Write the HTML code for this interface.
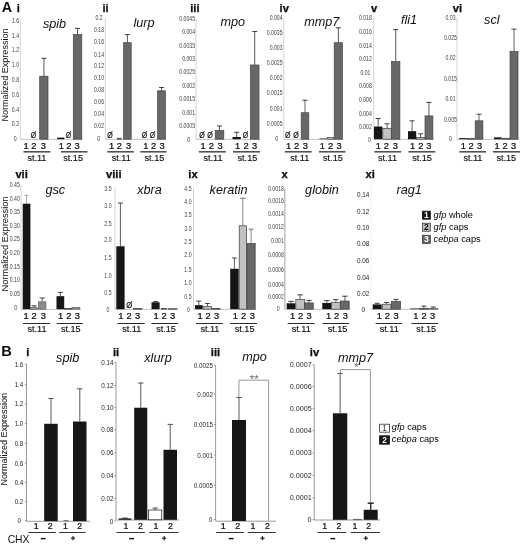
<!DOCTYPE html>
<html><head><meta charset="utf-8"><title>Figure</title>
<style>
html,body{margin:0;padding:0;background:#fff;}
body{width:520px;height:544px;overflow:hidden;}
svg{display:block;font-family:"Liberation Sans",sans-serif;}
</style></head><body>
<svg width="520" height="544" viewBox="0 0 520 544">
<defs><filter id="soft" x="0" y="0" width="520" height="544" filterUnits="userSpaceOnUse"><feGaussianBlur stdDeviation="0.32"/></filter></defs>
<rect width="520" height="544" fill="#fff"/>
<g filter="url(#soft)">
<line x1="20.3" y1="20.5" x2="20.3" y2="139.2" stroke="#c0c0c0" stroke-width="0.7"/>
<line x1="20.3" y1="139.4" x2="82.8" y2="139.4" stroke="#b5b5b5" stroke-width="0.8"/>
<text transform="translate(19.0,22.7) scale(0.78,1)" font-size="6.6" text-anchor="end" fill="#3c3c3c">1.6</text>
<text transform="translate(19.0,37.7) scale(0.78,1)" font-size="6.6" text-anchor="end" fill="#3c3c3c">1.4</text>
<text transform="translate(19.0,52.2) scale(0.78,1)" font-size="6.6" text-anchor="end" fill="#3c3c3c">1.2</text>
<text transform="translate(19.0,67.2) scale(0.78,1)" font-size="6.6" text-anchor="end" fill="#3c3c3c">1.0</text>
<text transform="translate(19.0,82.2) scale(0.78,1)" font-size="6.6" text-anchor="end" fill="#3c3c3c">0.8</text>
<text transform="translate(19.0,96.7) scale(0.78,1)" font-size="6.6" text-anchor="end" fill="#3c3c3c">0.6</text>
<text transform="translate(19.0,111.5) scale(0.78,1)" font-size="6.6" text-anchor="end" fill="#3c3c3c">0.4</text>
<text transform="translate(19.0,126.2) scale(0.78,1)" font-size="6.6" text-anchor="end" fill="#3c3c3c">0.2</text>
<text transform="translate(15.2,140.5) scale(0.78,1)" font-size="6.6" text-anchor="middle" fill="#3c3c3c">0</text>
<text transform="translate(54.5,28.2) scale(1.055,1)" font-size="12.0" text-anchor="middle" fill="#111" font-style="italic">spib</text>
<line x1="43.9" y1="58.3" x2="43.9" y2="76.2" stroke="#151515" stroke-width="0.7"/>
<line x1="41.4" y1="58.3" x2="46.4" y2="58.3" stroke="#151515" stroke-width="0.7999999999999999"/>
<rect x="39.7" y="76.2" width="8.3" height="63.0" fill="#676767" stroke="#454545" stroke-width="0.7"/>
<rect x="57.3" y="137.6" width="7.1" height="1.6" fill="#141414"/>
<line x1="77.5" y1="28.4" x2="77.5" y2="34.5" stroke="#151515" stroke-width="0.7"/>
<line x1="75.0" y1="28.4" x2="80.0" y2="28.4" stroke="#151515" stroke-width="0.7999999999999999"/>
<rect x="73.3" y="34.5" width="8.5" height="104.7" fill="#676767" stroke="#454545" stroke-width="0.7"/>
<text x="26.1" y="148.6" font-size="9.3" text-anchor="middle" fill="#0a0a0a" font-weight="normal" font-style="normal" stroke="#0a0a0a" stroke-width="0.22">1</text>
<text x="33.8" y="148.6" font-size="9.3" text-anchor="middle" fill="#0a0a0a" font-weight="normal" font-style="normal" stroke="#0a0a0a" stroke-width="0.22">2</text>
<text x="43.3" y="148.6" font-size="9.3" text-anchor="middle" fill="#0a0a0a" font-weight="normal" font-style="normal" stroke="#0a0a0a" stroke-width="0.22">3</text>
<text x="61.3" y="148.6" font-size="9.3" text-anchor="middle" fill="#0a0a0a" font-weight="normal" font-style="normal" stroke="#0a0a0a" stroke-width="0.22">1</text>
<text x="68.8" y="148.6" font-size="9.3" text-anchor="middle" fill="#0a0a0a" font-weight="normal" font-style="normal" stroke="#0a0a0a" stroke-width="0.22">2</text>
<text x="77.0" y="148.6" font-size="9.3" text-anchor="middle" fill="#0a0a0a" font-weight="normal" font-style="normal" stroke="#0a0a0a" stroke-width="0.22">3</text>
<line x1="23.5" y1="151.8" x2="50.4" y2="151.8" stroke="#484848" stroke-width="1.5"/>
<line x1="61.0" y1="151.8" x2="87.5" y2="151.8" stroke="#484848" stroke-width="1.5"/>
<text x="36.9" y="160.7" font-size="9.1" text-anchor="middle" fill="#101010" font-weight="normal" font-style="normal" stroke="#101010" stroke-width="0.15">st.11</text>
<text x="73.1" y="160.7" font-size="9.1" text-anchor="middle" fill="#101010" font-weight="normal" font-style="normal" stroke="#101010" stroke-width="0.15">st.15</text>
<text x="33.4" y="138.0" font-size="8.5" text-anchor="middle" fill="#111" font-weight="normal" font-style="normal" textLength="5.5" lengthAdjust="spacingAndGlyphs" stroke="#111" stroke-width="0.2">Ø</text>
<text x="68.6" y="138.0" font-size="8.5" text-anchor="middle" fill="#111" font-weight="normal" font-style="normal" textLength="5.5" lengthAdjust="spacingAndGlyphs" stroke="#111" stroke-width="0.2">Ø</text>
<line x1="105.4" y1="17.3" x2="105.4" y2="139.2" stroke="#c0c0c0" stroke-width="0.7"/>
<line x1="105.4" y1="139.4" x2="166.4" y2="139.4" stroke="#b5b5b5" stroke-width="0.8"/>
<text transform="translate(99.0,19.5) scale(0.78,1)" font-size="6.6" text-anchor="middle" fill="#3c3c3c">0.2</text>
<text transform="translate(99.0,31.6) scale(0.78,1)" font-size="6.6" text-anchor="middle" fill="#3c3c3c">0.18</text>
<text transform="translate(99.0,43.9) scale(0.78,1)" font-size="6.6" text-anchor="middle" fill="#3c3c3c">0.16</text>
<text transform="translate(99.0,56.6) scale(0.78,1)" font-size="6.6" text-anchor="middle" fill="#3c3c3c">0.14</text>
<text transform="translate(99.0,68.2) scale(0.78,1)" font-size="6.6" text-anchor="middle" fill="#3c3c3c">0.12</text>
<text transform="translate(99.0,79.7) scale(0.78,1)" font-size="6.6" text-anchor="middle" fill="#3c3c3c">0.10</text>
<text transform="translate(99.0,91.6) scale(0.78,1)" font-size="6.6" text-anchor="middle" fill="#3c3c3c">0.08</text>
<text transform="translate(99.0,104.4) scale(0.78,1)" font-size="6.6" text-anchor="middle" fill="#3c3c3c">0.06</text>
<text transform="translate(99.0,116.2) scale(0.78,1)" font-size="6.6" text-anchor="middle" fill="#3c3c3c">0.04</text>
<text transform="translate(99.0,128.3) scale(0.78,1)" font-size="6.6" text-anchor="middle" fill="#3c3c3c">0.02</text>
<text transform="translate(98.8,140.7) scale(0.78,1)" font-size="6.6" text-anchor="middle" fill="#3c3c3c">0</text>
<text transform="translate(144.0,26.8) scale(1.055,1)" font-size="12.0" text-anchor="middle" fill="#111" font-style="italic">lurp</text>
<rect x="117.5" y="138.2" width="3.7" height="1.0" fill="#676767" stroke="#454545" stroke-width="0.7"/>
<line x1="127.4" y1="34.6" x2="127.4" y2="42.7" stroke="#151515" stroke-width="0.7"/>
<line x1="124.9" y1="34.6" x2="129.9" y2="34.6" stroke="#151515" stroke-width="0.7999999999999999"/>
<rect x="123.6" y="42.7" width="7.6" height="96.5" fill="#676767" stroke="#454545" stroke-width="0.7"/>
<line x1="161.5" y1="87.5" x2="161.5" y2="90.8" stroke="#151515" stroke-width="0.7"/>
<line x1="159.0" y1="87.5" x2="164.0" y2="87.5" stroke="#151515" stroke-width="0.7999999999999999"/>
<rect x="157.6" y="90.8" width="7.8" height="48.4" fill="#676767" stroke="#454545" stroke-width="0.7"/>
<text x="111.7" y="148.6" font-size="9.3" text-anchor="middle" fill="#0a0a0a" font-weight="normal" font-style="normal" stroke="#0a0a0a" stroke-width="0.22">1</text>
<text x="119.4" y="148.6" font-size="9.3" text-anchor="middle" fill="#0a0a0a" font-weight="normal" font-style="normal" stroke="#0a0a0a" stroke-width="0.22">2</text>
<text x="128.5" y="148.6" font-size="9.3" text-anchor="middle" fill="#0a0a0a" font-weight="normal" font-style="normal" stroke="#0a0a0a" stroke-width="0.22">3</text>
<text x="145.8" y="148.6" font-size="9.3" text-anchor="middle" fill="#0a0a0a" font-weight="normal" font-style="normal" stroke="#0a0a0a" stroke-width="0.22">1</text>
<text x="153.5" y="148.6" font-size="9.3" text-anchor="middle" fill="#0a0a0a" font-weight="normal" font-style="normal" stroke="#0a0a0a" stroke-width="0.22">2</text>
<text x="162.0" y="148.6" font-size="9.3" text-anchor="middle" fill="#0a0a0a" font-weight="normal" font-style="normal" stroke="#0a0a0a" stroke-width="0.22">3</text>
<line x1="107.3" y1="151.8" x2="133.8" y2="151.8" stroke="#484848" stroke-width="1.5"/>
<line x1="140.4" y1="151.8" x2="166.5" y2="151.8" stroke="#484848" stroke-width="1.5"/>
<text x="121.2" y="160.7" font-size="9.1" text-anchor="middle" fill="#101010" font-weight="normal" font-style="normal" stroke="#101010" stroke-width="0.15">st.11</text>
<text x="154.4" y="160.7" font-size="9.1" text-anchor="middle" fill="#101010" font-weight="normal" font-style="normal" stroke="#101010" stroke-width="0.15">st.15</text>
<text x="110.0" y="138.0" font-size="8.5" text-anchor="middle" fill="#111" font-weight="normal" font-style="normal" textLength="5.5" lengthAdjust="spacingAndGlyphs" stroke="#111" stroke-width="0.2">Ø</text>
<text x="144.4" y="138.0" font-size="8.5" text-anchor="middle" fill="#111" font-weight="normal" font-style="normal" textLength="5.5" lengthAdjust="spacingAndGlyphs" stroke="#111" stroke-width="0.2">Ø</text>
<text x="152.5" y="138.0" font-size="8.5" text-anchor="middle" fill="#111" font-weight="normal" font-style="normal" textLength="5.5" lengthAdjust="spacingAndGlyphs" stroke="#111" stroke-width="0.2">Ø</text>
<line x1="196.0" y1="18.7" x2="196.0" y2="139.2" stroke="#c0c0c0" stroke-width="0.7"/>
<line x1="196.0" y1="139.4" x2="260.0" y2="139.4" stroke="#b5b5b5" stroke-width="0.8"/>
<text transform="translate(195.0,20.9) scale(0.78,1)" font-size="6.6" text-anchor="end" fill="#3c3c3c">0.0045</text>
<text transform="translate(195.0,34.3) scale(0.78,1)" font-size="6.6" text-anchor="end" fill="#3c3c3c">0.004</text>
<text transform="translate(195.0,47.8) scale(0.78,1)" font-size="6.6" text-anchor="end" fill="#3c3c3c">0.0035</text>
<text transform="translate(195.0,61.2) scale(0.78,1)" font-size="6.6" text-anchor="end" fill="#3c3c3c">0.003</text>
<text transform="translate(195.0,74.2) scale(0.78,1)" font-size="6.6" text-anchor="end" fill="#3c3c3c">0.0025</text>
<text transform="translate(195.0,87.9) scale(0.78,1)" font-size="6.6" text-anchor="end" fill="#3c3c3c">0.002</text>
<text transform="translate(195.0,101.3) scale(0.78,1)" font-size="6.6" text-anchor="end" fill="#3c3c3c">0.0015</text>
<text transform="translate(195.0,114.8) scale(0.78,1)" font-size="6.6" text-anchor="end" fill="#3c3c3c">0.001</text>
<text transform="translate(195.0,128.3) scale(0.78,1)" font-size="6.6" text-anchor="end" fill="#3c3c3c">0.0005</text>
<text transform="translate(188.8,141.6) scale(0.78,1)" font-size="6.6" text-anchor="middle" fill="#3c3c3c">0</text>
<text transform="translate(232.7,25.7) scale(1.055,1)" font-size="12.0" text-anchor="middle" fill="#111" font-style="italic">mpo</text>
<line x1="219.5" y1="126.0" x2="219.5" y2="130.4" stroke="#151515" stroke-width="0.7"/>
<line x1="217.0" y1="126.0" x2="222.0" y2="126.0" stroke="#151515" stroke-width="0.7999999999999999"/>
<rect x="215.2" y="130.4" width="8.6" height="8.8" fill="#676767" stroke="#454545" stroke-width="0.7"/>
<line x1="236.7" y1="132.3" x2="236.7" y2="137.0" stroke="#151515" stroke-width="0.7"/>
<line x1="234.2" y1="132.3" x2="239.2" y2="132.3" stroke="#151515" stroke-width="0.7999999999999999"/>
<rect x="232.5" y="137.0" width="8.3" height="2.2" fill="#141414"/>
<line x1="254.7" y1="31.5" x2="254.7" y2="65.0" stroke="#151515" stroke-width="0.7"/>
<line x1="252.2" y1="31.5" x2="257.2" y2="31.5" stroke="#151515" stroke-width="0.7999999999999999"/>
<rect x="250.4" y="65.0" width="8.6" height="74.2" fill="#676767" stroke="#454545" stroke-width="0.7"/>
<text x="203.0" y="148.6" font-size="9.3" text-anchor="middle" fill="#0a0a0a" font-weight="normal" font-style="normal" stroke="#0a0a0a" stroke-width="0.22">1</text>
<text x="211.3" y="148.6" font-size="9.3" text-anchor="middle" fill="#0a0a0a" font-weight="normal" font-style="normal" stroke="#0a0a0a" stroke-width="0.22">2</text>
<text x="220.0" y="148.6" font-size="9.3" text-anchor="middle" fill="#0a0a0a" font-weight="normal" font-style="normal" stroke="#0a0a0a" stroke-width="0.22">3</text>
<text x="237.7" y="148.6" font-size="9.3" text-anchor="middle" fill="#0a0a0a" font-weight="normal" font-style="normal" stroke="#0a0a0a" stroke-width="0.22">1</text>
<text x="246.0" y="148.6" font-size="9.3" text-anchor="middle" fill="#0a0a0a" font-weight="normal" font-style="normal" stroke="#0a0a0a" stroke-width="0.22">2</text>
<text x="254.6" y="148.6" font-size="9.3" text-anchor="middle" fill="#0a0a0a" font-weight="normal" font-style="normal" stroke="#0a0a0a" stroke-width="0.22">3</text>
<line x1="198.8" y1="151.8" x2="225.8" y2="151.8" stroke="#484848" stroke-width="1.5"/>
<line x1="233.0" y1="151.8" x2="260.0" y2="151.8" stroke="#484848" stroke-width="1.5"/>
<text x="213.0" y="160.7" font-size="9.1" text-anchor="middle" fill="#101010" font-weight="normal" font-style="normal" stroke="#101010" stroke-width="0.15">st.11</text>
<text x="247.4" y="160.7" font-size="9.1" text-anchor="middle" fill="#101010" font-weight="normal" font-style="normal" stroke="#101010" stroke-width="0.15">st.15</text>
<text x="202.0" y="138.0" font-size="8.5" text-anchor="middle" fill="#111" font-weight="normal" font-style="normal" textLength="5.5" lengthAdjust="spacingAndGlyphs" stroke="#111" stroke-width="0.2">Ø</text>
<text x="210.0" y="138.0" font-size="8.5" text-anchor="middle" fill="#111" font-weight="normal" font-style="normal" textLength="5.5" lengthAdjust="spacingAndGlyphs" stroke="#111" stroke-width="0.2">Ø</text>
<text x="245.6" y="138.0" font-size="8.5" text-anchor="middle" fill="#111" font-weight="normal" font-style="normal" textLength="5.5" lengthAdjust="spacingAndGlyphs" stroke="#111" stroke-width="0.2">Ø</text>
<line x1="283.8" y1="17.9" x2="283.8" y2="139.2" stroke="#c0c0c0" stroke-width="0.7"/>
<line x1="283.8" y1="139.4" x2="343.5" y2="139.4" stroke="#b5b5b5" stroke-width="0.8"/>
<text transform="translate(282.5,20.1) scale(0.78,1)" font-size="6.6" text-anchor="end" fill="#3c3c3c">0.004</text>
<text transform="translate(282.5,34.9) scale(0.78,1)" font-size="6.6" text-anchor="end" fill="#3c3c3c">0.0035</text>
<text transform="translate(282.5,49.9) scale(0.78,1)" font-size="6.6" text-anchor="end" fill="#3c3c3c">0.003</text>
<text transform="translate(282.5,65.1) scale(0.78,1)" font-size="6.6" text-anchor="end" fill="#3c3c3c">0.0025</text>
<text transform="translate(282.5,80.1) scale(0.78,1)" font-size="6.6" text-anchor="end" fill="#3c3c3c">0.002</text>
<text transform="translate(282.5,95.4) scale(0.78,1)" font-size="6.6" text-anchor="end" fill="#3c3c3c">0.0015</text>
<text transform="translate(282.5,110.6) scale(0.78,1)" font-size="6.6" text-anchor="end" fill="#3c3c3c">0.001</text>
<text transform="translate(282.5,125.8) scale(0.78,1)" font-size="6.6" text-anchor="end" fill="#3c3c3c">0.0005</text>
<text transform="translate(276.7,140.9) scale(0.78,1)" font-size="6.6" text-anchor="middle" fill="#3c3c3c">0</text>
<text transform="translate(321.8,26.3) scale(1.055,1)" font-size="12.0" text-anchor="middle" fill="#111" font-style="italic">mmp7</text>
<line x1="305.0" y1="100.2" x2="305.0" y2="112.7" stroke="#151515" stroke-width="0.7"/>
<line x1="302.5" y1="100.2" x2="307.5" y2="100.2" stroke="#151515" stroke-width="0.7999999999999999"/>
<rect x="301.2" y="112.7" width="7.6" height="26.5" fill="#676767" stroke="#454545" stroke-width="0.7"/>
<rect x="319.5" y="138.5" width="7.0" height="0.7" fill="#141414"/>
<rect x="327.0" y="137.6" width="7.0" height="1.6" fill="#c2c2c2" stroke="#3a3a3a" stroke-width="0.7"/>
<line x1="338.4" y1="27.8" x2="338.4" y2="42.7" stroke="#151515" stroke-width="0.7"/>
<line x1="335.9" y1="27.8" x2="340.9" y2="27.8" stroke="#151515" stroke-width="0.7999999999999999"/>
<rect x="334.2" y="42.7" width="8.3" height="96.5" fill="#676767" stroke="#454545" stroke-width="0.7"/>
<text x="288.7" y="148.6" font-size="9.3" text-anchor="middle" fill="#0a0a0a" font-weight="normal" font-style="normal" stroke="#0a0a0a" stroke-width="0.22">1</text>
<text x="296.7" y="148.6" font-size="9.3" text-anchor="middle" fill="#0a0a0a" font-weight="normal" font-style="normal" stroke="#0a0a0a" stroke-width="0.22">2</text>
<text x="305.4" y="148.6" font-size="9.3" text-anchor="middle" fill="#0a0a0a" font-weight="normal" font-style="normal" stroke="#0a0a0a" stroke-width="0.22">3</text>
<text x="322.3" y="148.6" font-size="9.3" text-anchor="middle" fill="#0a0a0a" font-weight="normal" font-style="normal" stroke="#0a0a0a" stroke-width="0.22">1</text>
<text x="330.6" y="148.6" font-size="9.3" text-anchor="middle" fill="#0a0a0a" font-weight="normal" font-style="normal" stroke="#0a0a0a" stroke-width="0.22">2</text>
<text x="339.0" y="148.6" font-size="9.3" text-anchor="middle" fill="#0a0a0a" font-weight="normal" font-style="normal" stroke="#0a0a0a" stroke-width="0.22">3</text>
<line x1="284.8" y1="151.8" x2="311.7" y2="151.8" stroke="#484848" stroke-width="1.5"/>
<line x1="319.0" y1="151.8" x2="345.4" y2="151.8" stroke="#484848" stroke-width="1.5"/>
<text x="299.7" y="160.7" font-size="9.1" text-anchor="middle" fill="#101010" font-weight="normal" font-style="normal" stroke="#101010" stroke-width="0.15">st.11</text>
<text x="332.9" y="160.7" font-size="9.1" text-anchor="middle" fill="#101010" font-weight="normal" font-style="normal" stroke="#101010" stroke-width="0.15">st.15</text>
<text x="287.7" y="138.0" font-size="8.5" text-anchor="middle" fill="#111" font-weight="normal" font-style="normal" textLength="5.5" lengthAdjust="spacingAndGlyphs" stroke="#111" stroke-width="0.2">Ø</text>
<text x="296.0" y="138.0" font-size="8.5" text-anchor="middle" fill="#111" font-weight="normal" font-style="normal" textLength="5.5" lengthAdjust="spacingAndGlyphs" stroke="#111" stroke-width="0.2">Ø</text>
<line x1="373.7" y1="17.9" x2="373.7" y2="139.2" stroke="#c0c0c0" stroke-width="0.7"/>
<line x1="373.7" y1="139.4" x2="433.9" y2="139.4" stroke="#b5b5b5" stroke-width="0.8"/>
<text transform="translate(365.4,20.1) scale(0.78,1)" font-size="6.6" text-anchor="middle" fill="#3c3c3c">0.018</text>
<text transform="translate(365.4,33.9) scale(0.78,1)" font-size="6.6" text-anchor="middle" fill="#3c3c3c">0.016</text>
<text transform="translate(365.4,47.8) scale(0.78,1)" font-size="6.6" text-anchor="middle" fill="#3c3c3c">0.014</text>
<text transform="translate(365.4,61.2) scale(0.78,1)" font-size="6.6" text-anchor="middle" fill="#3c3c3c">0.012</text>
<text transform="translate(365.4,74.7) scale(0.78,1)" font-size="6.6" text-anchor="middle" fill="#3c3c3c">0.01</text>
<text transform="translate(365.4,88.3) scale(0.78,1)" font-size="6.6" text-anchor="middle" fill="#3c3c3c">0.008</text>
<text transform="translate(365.4,101.8) scale(0.78,1)" font-size="6.6" text-anchor="middle" fill="#3c3c3c">0.006</text>
<text transform="translate(365.4,116.0) scale(0.78,1)" font-size="6.6" text-anchor="middle" fill="#3c3c3c">0.004</text>
<text transform="translate(365.4,128.8) scale(0.78,1)" font-size="6.6" text-anchor="middle" fill="#3c3c3c">0.002</text>
<text transform="translate(369.4,141.7) scale(0.78,1)" font-size="6.6" text-anchor="middle" fill="#3c3c3c">0</text>
<text transform="translate(409.0,23.5) scale(1.055,1)" font-size="12.0" text-anchor="middle" fill="#111" font-style="italic">fli1</text>
<line x1="378.2" y1="118.5" x2="378.2" y2="126.5" stroke="#151515" stroke-width="0.7"/>
<line x1="375.7" y1="118.5" x2="380.7" y2="118.5" stroke="#151515" stroke-width="0.7999999999999999"/>
<rect x="374.0" y="126.5" width="8.4" height="12.7" fill="#141414"/>
<line x1="387.1" y1="123.8" x2="387.1" y2="128.3" stroke="#151515" stroke-width="0.7"/>
<line x1="384.6" y1="123.8" x2="389.6" y2="123.8" stroke="#151515" stroke-width="0.7999999999999999"/>
<rect x="382.8" y="128.3" width="8.5" height="10.9" fill="#c2c2c2" stroke="#3a3a3a" stroke-width="0.7"/>
<line x1="395.7" y1="29.6" x2="395.7" y2="61.5" stroke="#151515" stroke-width="0.7"/>
<line x1="393.2" y1="29.6" x2="398.2" y2="29.6" stroke="#151515" stroke-width="0.7999999999999999"/>
<rect x="391.5" y="61.5" width="8.4" height="77.7" fill="#676767" stroke="#454545" stroke-width="0.7"/>
<line x1="412.1" y1="120.8" x2="412.1" y2="131.2" stroke="#151515" stroke-width="0.7"/>
<line x1="409.6" y1="120.8" x2="414.6" y2="120.8" stroke="#151515" stroke-width="0.7999999999999999"/>
<rect x="408.0" y="131.2" width="8.2" height="8.0" fill="#141414"/>
<line x1="420.5" y1="133.8" x2="420.5" y2="137.4" stroke="#151515" stroke-width="0.7"/>
<line x1="418.0" y1="133.8" x2="423.0" y2="133.8" stroke="#151515" stroke-width="0.7999999999999999"/>
<rect x="416.5" y="137.4" width="8.0" height="1.8" fill="#c2c2c2" stroke="#3a3a3a" stroke-width="0.7"/>
<line x1="428.9" y1="102.4" x2="428.9" y2="115.9" stroke="#151515" stroke-width="0.7"/>
<line x1="426.4" y1="102.4" x2="431.4" y2="102.4" stroke="#151515" stroke-width="0.7999999999999999"/>
<rect x="425.0" y="115.9" width="7.9" height="23.3" fill="#676767" stroke="#454545" stroke-width="0.7"/>
<text x="378.3" y="148.6" font-size="9.3" text-anchor="middle" fill="#0a0a0a" font-weight="normal" font-style="normal" stroke="#0a0a0a" stroke-width="0.22">1</text>
<text x="386.4" y="148.6" font-size="9.3" text-anchor="middle" fill="#0a0a0a" font-weight="normal" font-style="normal" stroke="#0a0a0a" stroke-width="0.22">2</text>
<text x="395.3" y="148.6" font-size="9.3" text-anchor="middle" fill="#0a0a0a" font-weight="normal" font-style="normal" stroke="#0a0a0a" stroke-width="0.22">3</text>
<text x="412.7" y="148.6" font-size="9.3" text-anchor="middle" fill="#0a0a0a" font-weight="normal" font-style="normal" stroke="#0a0a0a" stroke-width="0.22">1</text>
<text x="420.8" y="148.6" font-size="9.3" text-anchor="middle" fill="#0a0a0a" font-weight="normal" font-style="normal" stroke="#0a0a0a" stroke-width="0.22">2</text>
<text x="428.8" y="148.6" font-size="9.3" text-anchor="middle" fill="#0a0a0a" font-weight="normal" font-style="normal" stroke="#0a0a0a" stroke-width="0.22">3</text>
<line x1="374.4" y1="151.8" x2="401.2" y2="151.8" stroke="#484848" stroke-width="1.5"/>
<line x1="408.4" y1="151.8" x2="435.3" y2="151.8" stroke="#484848" stroke-width="1.5"/>
<text x="387.5" y="160.7" font-size="9.1" text-anchor="middle" fill="#101010" font-weight="normal" font-style="normal" stroke="#101010" stroke-width="0.15">st.11</text>
<text x="422.0" y="160.7" font-size="9.1" text-anchor="middle" fill="#101010" font-weight="normal" font-style="normal" stroke="#101010" stroke-width="0.15">st.15</text>
<line x1="457.0" y1="17.9" x2="457.0" y2="139.2" stroke="#c0c0c0" stroke-width="0.7"/>
<line x1="457.0" y1="139.4" x2="519.0" y2="139.4" stroke="#b5b5b5" stroke-width="0.8"/>
<text transform="translate(450.5,20.1) scale(0.78,1)" font-size="6.6" text-anchor="middle" fill="#3c3c3c">0.03</text>
<text transform="translate(450.5,40.1) scale(0.78,1)" font-size="6.6" text-anchor="middle" fill="#3c3c3c">0.025</text>
<text transform="translate(450.5,59.9) scale(0.78,1)" font-size="6.6" text-anchor="middle" fill="#3c3c3c">0.02</text>
<text transform="translate(450.5,80.7) scale(0.78,1)" font-size="6.6" text-anchor="middle" fill="#3c3c3c">0.015</text>
<text transform="translate(450.5,100.8) scale(0.78,1)" font-size="6.6" text-anchor="middle" fill="#3c3c3c">0.01</text>
<text transform="translate(450.5,121.9) scale(0.78,1)" font-size="6.6" text-anchor="middle" fill="#3c3c3c">0.005</text>
<text transform="translate(450.4,141.3) scale(0.78,1)" font-size="6.6" text-anchor="middle" fill="#3c3c3c">0</text>
<text transform="translate(491.8,23.5) scale(1.055,1)" font-size="12.0" text-anchor="middle" fill="#111" font-style="italic">scl</text>
<rect x="459.0" y="138.1" width="7.7" height="1.1" fill="#141414"/>
<rect x="467.0" y="138.4" width="7.5" height="0.8" fill="#676767" stroke="#454545" stroke-width="0.7"/>
<line x1="479.0" y1="114.2" x2="479.0" y2="120.8" stroke="#151515" stroke-width="0.7"/>
<line x1="476.5" y1="114.2" x2="481.5" y2="114.2" stroke="#151515" stroke-width="0.7999999999999999"/>
<rect x="475.2" y="120.8" width="7.7" height="18.4" fill="#676767" stroke="#454545" stroke-width="0.7"/>
<rect x="494.0" y="137.4" width="7.7" height="1.8" fill="#141414"/>
<rect x="502.0" y="138.3" width="7.8" height="0.9" fill="#c2c2c2" stroke="#3a3a3a" stroke-width="0.7"/>
<line x1="514.0" y1="29.1" x2="514.0" y2="51.3" stroke="#151515" stroke-width="0.7"/>
<line x1="511.5" y1="29.1" x2="516.5" y2="29.1" stroke="#151515" stroke-width="0.7999999999999999"/>
<rect x="510.0" y="51.3" width="8.0" height="87.9" fill="#676767" stroke="#454545" stroke-width="0.7"/>
<text x="463.3" y="148.6" font-size="9.3" text-anchor="middle" fill="#0a0a0a" font-weight="normal" font-style="normal" stroke="#0a0a0a" stroke-width="0.22">1</text>
<text x="471.0" y="148.6" font-size="9.3" text-anchor="middle" fill="#0a0a0a" font-weight="normal" font-style="normal" stroke="#0a0a0a" stroke-width="0.22">2</text>
<text x="479.6" y="148.6" font-size="9.3" text-anchor="middle" fill="#0a0a0a" font-weight="normal" font-style="normal" stroke="#0a0a0a" stroke-width="0.22">3</text>
<text x="497.0" y="148.6" font-size="9.3" text-anchor="middle" fill="#0a0a0a" font-weight="normal" font-style="normal" stroke="#0a0a0a" stroke-width="0.22">1</text>
<text x="505.0" y="148.6" font-size="9.3" text-anchor="middle" fill="#0a0a0a" font-weight="normal" font-style="normal" stroke="#0a0a0a" stroke-width="0.22">2</text>
<text x="513.7" y="148.6" font-size="9.3" text-anchor="middle" fill="#0a0a0a" font-weight="normal" font-style="normal" stroke="#0a0a0a" stroke-width="0.22">3</text>
<line x1="459.4" y1="151.8" x2="486.0" y2="151.8" stroke="#484848" stroke-width="1.5"/>
<line x1="493.0" y1="151.8" x2="520.0" y2="151.8" stroke="#484848" stroke-width="1.5"/>
<text x="472.9" y="160.7" font-size="9.1" text-anchor="middle" fill="#101010" font-weight="normal" font-style="normal" stroke="#101010" stroke-width="0.15">st.11</text>
<text x="506.3" y="160.7" font-size="9.1" text-anchor="middle" fill="#101010" font-weight="normal" font-style="normal" stroke="#101010" stroke-width="0.15">st.15</text>
<line x1="21.0" y1="184.4" x2="21.0" y2="309.2" stroke="#c0c0c0" stroke-width="0.7"/>
<line x1="21.0" y1="309.4" x2="80.8" y2="309.4" stroke="#b5b5b5" stroke-width="0.8"/>
<text transform="translate(19.8,186.6) scale(0.78,1)" font-size="6.6" text-anchor="end" fill="#3c3c3c">0.45</text>
<text transform="translate(19.8,200.5) scale(0.78,1)" font-size="6.6" text-anchor="end" fill="#3c3c3c">0.40</text>
<text transform="translate(19.8,214.2) scale(0.78,1)" font-size="6.6" text-anchor="end" fill="#3c3c3c">0.35</text>
<text transform="translate(19.8,228.0) scale(0.78,1)" font-size="6.6" text-anchor="end" fill="#3c3c3c">0.30</text>
<text transform="translate(19.8,241.4) scale(0.78,1)" font-size="6.6" text-anchor="end" fill="#3c3c3c">0.25</text>
<text transform="translate(19.8,255.0) scale(0.78,1)" font-size="6.6" text-anchor="end" fill="#3c3c3c">0.20</text>
<text transform="translate(19.8,268.5) scale(0.78,1)" font-size="6.6" text-anchor="end" fill="#3c3c3c">0.15</text>
<text transform="translate(19.8,282.4) scale(0.78,1)" font-size="6.6" text-anchor="end" fill="#3c3c3c">0.10</text>
<text transform="translate(19.8,296.0) scale(0.78,1)" font-size="6.6" text-anchor="end" fill="#3c3c3c">0.05</text>
<text transform="translate(15.8,309.9) scale(0.78,1)" font-size="6.6" text-anchor="middle" fill="#3c3c3c">0</text>
<text transform="translate(55.3,193.5) scale(1.055,1)" font-size="12.0" text-anchor="middle" fill="#111" font-style="italic">gsc</text>
<line x1="26.5" y1="195.4" x2="26.5" y2="203.7" stroke="#808080" stroke-width="0.7"/>
<line x1="24.8" y1="195.4" x2="28.2" y2="195.4" stroke="#808080" stroke-width="0.7999999999999999"/>
<rect x="22.7" y="203.7" width="7.7" height="105.5" fill="#141414"/>
<line x1="34.1" y1="305.8" x2="34.1" y2="307.7" stroke="#151515" stroke-width="0.7"/>
<line x1="31.6" y1="305.8" x2="36.6" y2="305.8" stroke="#151515" stroke-width="0.7999999999999999"/>
<rect x="30.8" y="307.7" width="6.7" height="1.5" fill="#c2c2c2" stroke="#3a3a3a" stroke-width="0.7"/>
<line x1="42.2" y1="298.0" x2="42.2" y2="301.8" stroke="#151515" stroke-width="0.7"/>
<line x1="39.7" y1="298.0" x2="44.7" y2="298.0" stroke="#151515" stroke-width="0.7999999999999999"/>
<rect x="38.5" y="301.8" width="7.4" height="7.4" fill="#8a8a8a" stroke="#666" stroke-width="0.7"/>
<line x1="60.4" y1="292.4" x2="60.4" y2="296.2" stroke="#151515" stroke-width="0.7"/>
<line x1="57.9" y1="292.4" x2="62.9" y2="292.4" stroke="#151515" stroke-width="0.7999999999999999"/>
<rect x="56.5" y="296.2" width="7.7" height="13.0" fill="#141414"/>
<rect x="64.6" y="308.5" width="7.4" height="0.7" fill="#c2c2c2" stroke="#3a3a3a" stroke-width="0.7"/>
<rect x="72.0" y="307.3" width="7.8" height="1.9" fill="#8a8a8a" stroke="#666" stroke-width="0.7"/>
<text x="26.0" y="318.8" font-size="9.3" text-anchor="middle" fill="#0a0a0a" font-weight="normal" font-style="normal" stroke="#0a0a0a" stroke-width="0.22">1</text>
<text x="34.0" y="318.8" font-size="9.3" text-anchor="middle" fill="#0a0a0a" font-weight="normal" font-style="normal" stroke="#0a0a0a" stroke-width="0.22">2</text>
<text x="43.3" y="318.8" font-size="9.3" text-anchor="middle" fill="#0a0a0a" font-weight="normal" font-style="normal" stroke="#0a0a0a" stroke-width="0.22">3</text>
<text x="60.6" y="318.8" font-size="9.3" text-anchor="middle" fill="#0a0a0a" font-weight="normal" font-style="normal" stroke="#0a0a0a" stroke-width="0.22">1</text>
<text x="68.8" y="318.8" font-size="9.3" text-anchor="middle" fill="#0a0a0a" font-weight="normal" font-style="normal" stroke="#0a0a0a" stroke-width="0.22">2</text>
<text x="77.3" y="318.8" font-size="9.3" text-anchor="middle" fill="#0a0a0a" font-weight="normal" font-style="normal" stroke="#0a0a0a" stroke-width="0.22">3</text>
<line x1="23.0" y1="323.5" x2="50.0" y2="323.5" stroke="#2a2a2a" stroke-width="1.0"/>
<line x1="56.7" y1="323.5" x2="83.0" y2="323.5" stroke="#2a2a2a" stroke-width="1.0"/>
<text x="37.0" y="332.4" font-size="9.1" text-anchor="middle" fill="#101010" font-weight="normal" font-style="normal" stroke="#101010" stroke-width="0.15">st.11</text>
<text x="70.8" y="332.4" font-size="9.1" text-anchor="middle" fill="#101010" font-weight="normal" font-style="normal" stroke="#101010" stroke-width="0.15">st.15</text>
<line x1="115.0" y1="188.7" x2="115.0" y2="309.2" stroke="#c0c0c0" stroke-width="0.7"/>
<line x1="115.0" y1="309.4" x2="178.0" y2="309.4" stroke="#b5b5b5" stroke-width="0.8"/>
<text transform="translate(111.5,190.9) scale(0.78,1)" font-size="6.6" text-anchor="end" fill="#3c3c3c">3.5</text>
<text transform="translate(111.5,208.2) scale(0.78,1)" font-size="6.6" text-anchor="end" fill="#3c3c3c">3.0</text>
<text transform="translate(111.5,225.5) scale(0.78,1)" font-size="6.6" text-anchor="end" fill="#3c3c3c">2.5</text>
<text transform="translate(111.5,242.4) scale(0.78,1)" font-size="6.6" text-anchor="end" fill="#3c3c3c">2.0</text>
<text transform="translate(111.5,260.2) scale(0.78,1)" font-size="6.6" text-anchor="end" fill="#3c3c3c">1.5</text>
<text transform="translate(111.5,277.6) scale(0.78,1)" font-size="6.6" text-anchor="end" fill="#3c3c3c">1.0</text>
<text transform="translate(111.5,294.9) scale(0.78,1)" font-size="6.6" text-anchor="end" fill="#3c3c3c">0.5</text>
<text transform="translate(108.0,311.8) scale(0.78,1)" font-size="6.6" text-anchor="middle" fill="#3c3c3c">0</text>
<text transform="translate(149.5,193.5) scale(1.055,1)" font-size="12.0" text-anchor="middle" fill="#111" font-style="italic">xbra</text>
<line x1="120.4" y1="203.0" x2="120.4" y2="246.3" stroke="#151515" stroke-width="0.7"/>
<line x1="117.9" y1="203.0" x2="122.9" y2="203.0" stroke="#151515" stroke-width="0.7999999999999999"/>
<rect x="116.3" y="246.3" width="8.3" height="62.9" fill="#141414"/>
<rect x="133.3" y="308.6" width="8.7" height="0.6" fill="#676767" stroke="#454545" stroke-width="0.7"/>
<line x1="155.6" y1="301.6" x2="155.6" y2="302.3" stroke="#151515" stroke-width="0.7"/>
<line x1="153.1" y1="301.6" x2="158.1" y2="301.6" stroke="#151515" stroke-width="0.7999999999999999"/>
<rect x="151.5" y="302.3" width="8.1" height="6.9" fill="#141414"/>
<rect x="161.5" y="308.3" width="5.0" height="0.9" fill="#c2c2c2" stroke="#3a3a3a" stroke-width="0.7"/>
<rect x="168.0" y="308.7" width="9.0" height="0.5" fill="#676767" stroke="#454545" stroke-width="0.7"/>
<text x="120.8" y="318.8" font-size="9.3" text-anchor="middle" fill="#0a0a0a" font-weight="normal" font-style="normal" stroke="#0a0a0a" stroke-width="0.22">1</text>
<text x="129.0" y="318.8" font-size="9.3" text-anchor="middle" fill="#0a0a0a" font-weight="normal" font-style="normal" stroke="#0a0a0a" stroke-width="0.22">2</text>
<text x="137.7" y="318.8" font-size="9.3" text-anchor="middle" fill="#0a0a0a" font-weight="normal" font-style="normal" stroke="#0a0a0a" stroke-width="0.22">3</text>
<text x="156.0" y="318.8" font-size="9.3" text-anchor="middle" fill="#0a0a0a" font-weight="normal" font-style="normal" stroke="#0a0a0a" stroke-width="0.22">1</text>
<text x="164.0" y="318.8" font-size="9.3" text-anchor="middle" fill="#0a0a0a" font-weight="normal" font-style="normal" stroke="#0a0a0a" stroke-width="0.22">2</text>
<text x="172.7" y="318.8" font-size="9.3" text-anchor="middle" fill="#0a0a0a" font-weight="normal" font-style="normal" stroke="#0a0a0a" stroke-width="0.22">3</text>
<line x1="117.5" y1="323.5" x2="144.8" y2="323.5" stroke="#2a2a2a" stroke-width="1.0"/>
<line x1="151.5" y1="323.5" x2="178.0" y2="323.5" stroke="#2a2a2a" stroke-width="1.0"/>
<text x="131.8" y="332.4" font-size="9.1" text-anchor="middle" fill="#101010" font-weight="normal" font-style="normal" stroke="#101010" stroke-width="0.15">st.11</text>
<text x="166.0" y="332.4" font-size="9.1" text-anchor="middle" fill="#101010" font-weight="normal" font-style="normal" stroke="#101010" stroke-width="0.15">st.15</text>
<text x="129.2" y="308.2" font-size="8.8" text-anchor="middle" fill="#111" font-weight="normal" font-style="normal" textLength="6.0" lengthAdjust="spacingAndGlyphs" stroke="#111" stroke-width="0.2">Ø</text>
<line x1="193.5" y1="188.3" x2="193.5" y2="309.2" stroke="#c0c0c0" stroke-width="0.7"/>
<line x1="193.5" y1="309.4" x2="256.2" y2="309.4" stroke="#b5b5b5" stroke-width="0.8"/>
<text transform="translate(191.5,190.5) scale(0.78,1)" font-size="6.6" text-anchor="end" fill="#3c3c3c">4.5</text>
<text transform="translate(191.5,203.9) scale(0.78,1)" font-size="6.6" text-anchor="end" fill="#3c3c3c">4.0</text>
<text transform="translate(191.5,217.4) scale(0.78,1)" font-size="6.6" text-anchor="end" fill="#3c3c3c">3.5</text>
<text transform="translate(191.5,231.2) scale(0.78,1)" font-size="6.6" text-anchor="end" fill="#3c3c3c">3.0</text>
<text transform="translate(191.5,243.9) scale(0.78,1)" font-size="6.6" text-anchor="end" fill="#3c3c3c">2.5</text>
<text transform="translate(191.5,257.2) scale(0.78,1)" font-size="6.6" text-anchor="end" fill="#3c3c3c">2.0</text>
<text transform="translate(191.5,271.6) scale(0.78,1)" font-size="6.6" text-anchor="end" fill="#3c3c3c">1.5</text>
<text transform="translate(191.5,285.0) scale(0.78,1)" font-size="6.6" text-anchor="end" fill="#3c3c3c">1.0</text>
<text transform="translate(191.5,299.2) scale(0.78,1)" font-size="6.6" text-anchor="end" fill="#3c3c3c">0.5</text>
<text transform="translate(188.4,311.8) scale(0.78,1)" font-size="6.6" text-anchor="middle" fill="#3c3c3c">0</text>
<text transform="translate(228.6,193.5) scale(1.055,1)" font-size="12.0" text-anchor="middle" fill="#111" font-style="italic">keratin</text>
<line x1="198.8" y1="301.0" x2="198.8" y2="305.2" stroke="#151515" stroke-width="0.7"/>
<line x1="196.3" y1="301.0" x2="201.3" y2="301.0" stroke="#151515" stroke-width="0.7999999999999999"/>
<rect x="195.0" y="305.2" width="7.7" height="4.0" fill="#141414"/>
<line x1="207.5" y1="303.5" x2="207.5" y2="306.3" stroke="#151515" stroke-width="0.7"/>
<line x1="205.0" y1="303.5" x2="210.0" y2="303.5" stroke="#151515" stroke-width="0.7999999999999999"/>
<rect x="203.7" y="306.3" width="7.6" height="2.9" fill="#c2c2c2" stroke="#3a3a3a" stroke-width="0.7"/>
<rect x="212.0" y="308.5" width="8.0" height="0.7" fill="#676767" stroke="#454545" stroke-width="0.7"/>
<line x1="234.4" y1="258.0" x2="234.4" y2="268.8" stroke="#151515" stroke-width="0.7"/>
<line x1="231.9" y1="258.0" x2="236.9" y2="258.0" stroke="#151515" stroke-width="0.7999999999999999"/>
<rect x="230.2" y="268.8" width="8.5" height="40.4" fill="#141414"/>
<line x1="242.8" y1="198.3" x2="242.8" y2="225.8" stroke="#555" stroke-width="0.7"/>
<line x1="240.0" y1="198.3" x2="245.7" y2="198.3" stroke="#555" stroke-width="0.7999999999999999"/>
<rect x="239.2" y="225.8" width="7.3" height="83.4" fill="#c2c2c2" stroke="#3a3a3a" stroke-width="0.7"/>
<line x1="251.1" y1="229.2" x2="251.1" y2="243.5" stroke="#555" stroke-width="0.7"/>
<line x1="248.6" y1="229.2" x2="253.6" y2="229.2" stroke="#555" stroke-width="0.7999999999999999"/>
<rect x="247.0" y="243.5" width="8.2" height="65.7" fill="#676767" stroke="#454545" stroke-width="0.7"/>
<text x="200.2" y="318.8" font-size="9.3" text-anchor="middle" fill="#0a0a0a" font-weight="normal" font-style="normal" stroke="#0a0a0a" stroke-width="0.22">1</text>
<text x="208.0" y="318.8" font-size="9.3" text-anchor="middle" fill="#0a0a0a" font-weight="normal" font-style="normal" stroke="#0a0a0a" stroke-width="0.22">2</text>
<text x="216.7" y="318.8" font-size="9.3" text-anchor="middle" fill="#0a0a0a" font-weight="normal" font-style="normal" stroke="#0a0a0a" stroke-width="0.22">3</text>
<text x="235.4" y="318.8" font-size="9.3" text-anchor="middle" fill="#0a0a0a" font-weight="normal" font-style="normal" stroke="#0a0a0a" stroke-width="0.22">1</text>
<text x="243.7" y="318.8" font-size="9.3" text-anchor="middle" fill="#0a0a0a" font-weight="normal" font-style="normal" stroke="#0a0a0a" stroke-width="0.22">2</text>
<text x="252.3" y="318.8" font-size="9.3" text-anchor="middle" fill="#0a0a0a" font-weight="normal" font-style="normal" stroke="#0a0a0a" stroke-width="0.22">3</text>
<line x1="196.0" y1="323.5" x2="222.9" y2="323.5" stroke="#2a2a2a" stroke-width="1.0"/>
<line x1="230.2" y1="323.5" x2="257.0" y2="323.5" stroke="#2a2a2a" stroke-width="1.0"/>
<text x="209.9" y="332.4" font-size="9.1" text-anchor="middle" fill="#101010" font-weight="normal" font-style="normal" stroke="#101010" stroke-width="0.15">st.11</text>
<text x="244.6" y="332.4" font-size="9.1" text-anchor="middle" fill="#101010" font-weight="normal" font-style="normal" stroke="#101010" stroke-width="0.15">st.15</text>
<line x1="284.8" y1="188.3" x2="284.8" y2="309.2" stroke="#c4c4c4" stroke-width="1.6"/>
<line x1="284.8" y1="309.4" x2="350.2" y2="309.4" stroke="#b5b5b5" stroke-width="0.8"/>
<text transform="translate(283.8,190.5) scale(0.78,1)" font-size="6.6" text-anchor="end" fill="#3c3c3c">0.0018</text>
<text transform="translate(283.8,203.0) scale(0.78,1)" font-size="6.6" text-anchor="end" fill="#3c3c3c">0.0016</text>
<text transform="translate(283.8,216.0) scale(0.78,1)" font-size="6.6" text-anchor="end" fill="#3c3c3c">0.0014</text>
<text transform="translate(283.8,229.2) scale(0.78,1)" font-size="6.6" text-anchor="end" fill="#3c3c3c">0.0012</text>
<text transform="translate(283.8,242.8) scale(0.78,1)" font-size="6.6" text-anchor="end" fill="#3c3c3c">0.001</text>
<text transform="translate(283.8,257.2) scale(0.78,1)" font-size="6.6" text-anchor="end" fill="#3c3c3c">0.0008</text>
<text transform="translate(283.8,271.7) scale(0.78,1)" font-size="6.6" text-anchor="end" fill="#3c3c3c">0.0006</text>
<text transform="translate(283.8,286.8) scale(0.78,1)" font-size="6.6" text-anchor="end" fill="#3c3c3c">0.0004</text>
<text transform="translate(283.8,298.9) scale(0.78,1)" font-size="6.6" text-anchor="end" fill="#3c3c3c">0.0002</text>
<text transform="translate(278.2,311.4) scale(0.78,1)" font-size="6.6" text-anchor="middle" fill="#3c3c3c">0</text>
<text transform="translate(322.0,193.5) scale(1.055,1)" font-size="12.0" text-anchor="middle" fill="#111" font-style="italic">globin</text>
<line x1="291.0" y1="301.4" x2="291.0" y2="303.3" stroke="#151515" stroke-width="0.7"/>
<line x1="288.3" y1="301.4" x2="293.8" y2="301.4" stroke="#151515" stroke-width="0.7999999999999999"/>
<rect x="286.7" y="303.3" width="8.7" height="5.9" fill="#141414"/>
<line x1="300.1" y1="294.8" x2="300.1" y2="299.6" stroke="#151515" stroke-width="0.7"/>
<line x1="297.4" y1="294.8" x2="302.9" y2="294.8" stroke="#151515" stroke-width="0.7999999999999999"/>
<rect x="295.8" y="299.6" width="8.6" height="9.6" fill="#c2c2c2" stroke="#3a3a3a" stroke-width="0.7"/>
<line x1="309.0" y1="300.4" x2="309.0" y2="302.9" stroke="#151515" stroke-width="0.7"/>
<line x1="306.2" y1="300.4" x2="311.7" y2="300.4" stroke="#151515" stroke-width="0.7999999999999999"/>
<rect x="304.6" y="302.9" width="8.7" height="6.3" fill="#676767" stroke="#454545" stroke-width="0.7"/>
<line x1="326.8" y1="300.6" x2="326.8" y2="302.9" stroke="#151515" stroke-width="0.7"/>
<line x1="324.1" y1="300.6" x2="329.6" y2="300.6" stroke="#151515" stroke-width="0.7999999999999999"/>
<rect x="322.3" y="302.9" width="9.0" height="6.3" fill="#141414"/>
<line x1="335.9" y1="299.6" x2="335.9" y2="302.3" stroke="#151515" stroke-width="0.7"/>
<line x1="333.1" y1="299.6" x2="338.6" y2="299.6" stroke="#151515" stroke-width="0.7999999999999999"/>
<rect x="331.5" y="302.3" width="8.7" height="6.9" fill="#c2c2c2" stroke="#3a3a3a" stroke-width="0.7"/>
<line x1="344.9" y1="296.2" x2="344.9" y2="301.0" stroke="#151515" stroke-width="0.7"/>
<line x1="342.1" y1="296.2" x2="347.6" y2="296.2" stroke="#151515" stroke-width="0.7999999999999999"/>
<rect x="340.6" y="301.0" width="8.6" height="8.2" fill="#676767" stroke="#454545" stroke-width="0.7"/>
<text x="292.5" y="318.8" font-size="9.3" text-anchor="middle" fill="#0a0a0a" font-weight="normal" font-style="normal" stroke="#0a0a0a" stroke-width="0.22">1</text>
<text x="300.6" y="318.8" font-size="9.3" text-anchor="middle" fill="#0a0a0a" font-weight="normal" font-style="normal" stroke="#0a0a0a" stroke-width="0.22">2</text>
<text x="309.2" y="318.8" font-size="9.3" text-anchor="middle" fill="#0a0a0a" font-weight="normal" font-style="normal" stroke="#0a0a0a" stroke-width="0.22">3</text>
<text x="328.7" y="318.8" font-size="9.3" text-anchor="middle" fill="#0a0a0a" font-weight="normal" font-style="normal" stroke="#0a0a0a" stroke-width="0.22">1</text>
<text x="336.7" y="318.8" font-size="9.3" text-anchor="middle" fill="#0a0a0a" font-weight="normal" font-style="normal" stroke="#0a0a0a" stroke-width="0.22">2</text>
<text x="345.4" y="318.8" font-size="9.3" text-anchor="middle" fill="#0a0a0a" font-weight="normal" font-style="normal" stroke="#0a0a0a" stroke-width="0.22">3</text>
<line x1="287.7" y1="323.5" x2="314.6" y2="323.5" stroke="#2a2a2a" stroke-width="1.0"/>
<line x1="322.7" y1="323.5" x2="349.2" y2="323.5" stroke="#2a2a2a" stroke-width="1.0"/>
<text x="301.2" y="332.4" font-size="9.1" text-anchor="middle" fill="#101010" font-weight="normal" font-style="normal" stroke="#101010" stroke-width="0.15">st.11</text>
<text x="337.5" y="332.4" font-size="9.1" text-anchor="middle" fill="#101010" font-weight="normal" font-style="normal" stroke="#101010" stroke-width="0.15">st.15</text>
<line x1="370.8" y1="186.0" x2="370.8" y2="309.2" stroke="#ececec" stroke-width="0.7"/>
<line x1="370.8" y1="309.4" x2="438.7" y2="309.4" stroke="#b5b5b5" stroke-width="0.8"/>
<text transform="translate(369.4,197.4) scale(0.86,1)" font-size="7.4" text-anchor="end" fill="#222">0.14</text>
<text transform="translate(369.4,213.7) scale(0.86,1)" font-size="7.4" text-anchor="end" fill="#222">0.12</text>
<text transform="translate(369.4,230.1) scale(0.86,1)" font-size="7.4" text-anchor="end" fill="#222">0.10</text>
<text transform="translate(369.4,246.4) scale(0.86,1)" font-size="7.4" text-anchor="end" fill="#222">0.08</text>
<text transform="translate(369.4,262.9) scale(0.86,1)" font-size="7.4" text-anchor="end" fill="#222">0.06</text>
<text transform="translate(369.4,279.7) scale(0.86,1)" font-size="7.4" text-anchor="end" fill="#222">0.04</text>
<text transform="translate(369.4,296.2) scale(0.86,1)" font-size="7.4" text-anchor="end" fill="#222">0.02</text>
<text transform="translate(363.2,312.2) scale(0.86,1)" font-size="7.4" text-anchor="middle" fill="#222">0</text>
<text transform="translate(409.2,193.8) scale(1.055,1)" font-size="12.0" text-anchor="middle" fill="#111" font-style="italic">rag1</text>
<line x1="377.2" y1="303.3" x2="377.2" y2="304.4" stroke="#151515" stroke-width="0.7"/>
<line x1="374.7" y1="303.3" x2="379.7" y2="303.3" stroke="#151515" stroke-width="0.7999999999999999"/>
<rect x="372.7" y="304.4" width="9.0" height="4.8" fill="#141414"/>
<line x1="386.6" y1="302.5" x2="386.6" y2="304.2" stroke="#151515" stroke-width="0.7"/>
<line x1="384.1" y1="302.5" x2="389.1" y2="302.5" stroke="#151515" stroke-width="0.7999999999999999"/>
<rect x="382.3" y="304.2" width="8.7" height="5.0" fill="#c2c2c2" stroke="#3a3a3a" stroke-width="0.7"/>
<line x1="396.0" y1="299.4" x2="396.0" y2="301.3" stroke="#151515" stroke-width="0.7"/>
<line x1="393.5" y1="299.4" x2="398.5" y2="299.4" stroke="#151515" stroke-width="0.7999999999999999"/>
<rect x="391.3" y="301.3" width="9.3" height="7.9" fill="#676767" stroke="#454545" stroke-width="0.7"/>
<rect x="410.2" y="308.5" width="8.6" height="0.7" fill="#141414"/>
<line x1="423.9" y1="306.2" x2="423.9" y2="308.3" stroke="#151515" stroke-width="0.7"/>
<line x1="421.4" y1="306.2" x2="426.4" y2="306.2" stroke="#151515" stroke-width="0.7999999999999999"/>
<rect x="419.2" y="308.3" width="9.3" height="0.9" fill="#c2c2c2" stroke="#3a3a3a" stroke-width="0.7"/>
<line x1="433.2" y1="307.0" x2="433.2" y2="308.3" stroke="#151515" stroke-width="0.7"/>
<line x1="430.8" y1="307.0" x2="435.8" y2="307.0" stroke="#151515" stroke-width="0.7999999999999999"/>
<rect x="428.8" y="308.3" width="8.9" height="0.9" fill="#8a8a8a" stroke="#666" stroke-width="0.7"/>
<text x="379.4" y="318.8" font-size="9.3" text-anchor="middle" fill="#0a0a0a" font-weight="normal" font-style="normal" stroke="#0a0a0a" stroke-width="0.22">1</text>
<text x="387.4" y="318.8" font-size="9.3" text-anchor="middle" fill="#0a0a0a" font-weight="normal" font-style="normal" stroke="#0a0a0a" stroke-width="0.22">2</text>
<text x="396.0" y="318.8" font-size="9.3" text-anchor="middle" fill="#0a0a0a" font-weight="normal" font-style="normal" stroke="#0a0a0a" stroke-width="0.22">3</text>
<text x="415.8" y="318.8" font-size="9.3" text-anchor="middle" fill="#0a0a0a" font-weight="normal" font-style="normal" stroke="#0a0a0a" stroke-width="0.22">1</text>
<text x="424.0" y="318.8" font-size="9.3" text-anchor="middle" fill="#0a0a0a" font-weight="normal" font-style="normal" stroke="#0a0a0a" stroke-width="0.22">2</text>
<text x="432.5" y="318.8" font-size="9.3" text-anchor="middle" fill="#0a0a0a" font-weight="normal" font-style="normal" stroke="#0a0a0a" stroke-width="0.22">3</text>
<line x1="375.6" y1="323.5" x2="402.0" y2="323.5" stroke="#2a2a2a" stroke-width="1.0"/>
<line x1="411.5" y1="323.5" x2="438.0" y2="323.5" stroke="#2a2a2a" stroke-width="1.0"/>
<text x="389.3" y="332.4" font-size="9.1" text-anchor="middle" fill="#101010" font-weight="normal" font-style="normal" stroke="#101010" stroke-width="0.15">st.11</text>
<text x="426.2" y="332.4" font-size="9.1" text-anchor="middle" fill="#101010" font-weight="normal" font-style="normal" stroke="#101010" stroke-width="0.15">st.15</text>
<line x1="26.5" y1="364.2" x2="26.5" y2="521.1" stroke="#7a7a7a" stroke-width="0.75"/>
<line x1="26.5" y1="521.3" x2="90.0" y2="521.3" stroke="#808080" stroke-width="0.8"/>
<text transform="translate(23.3,366.7) scale(0.82,1)" font-size="7.6" text-anchor="end" fill="#262626">1.6</text>
<line x1="24.9" y1="364.2" x2="26.5" y2="364.2" stroke="#7a7a7a" stroke-width="0.8"/>
<text transform="translate(23.3,386.9) scale(0.82,1)" font-size="7.6" text-anchor="end" fill="#262626">1.4</text>
<line x1="24.9" y1="384.4" x2="26.5" y2="384.4" stroke="#7a7a7a" stroke-width="0.8"/>
<text transform="translate(23.3,406.3) scale(0.82,1)" font-size="7.6" text-anchor="end" fill="#262626">1.2</text>
<line x1="24.9" y1="403.8" x2="26.5" y2="403.8" stroke="#7a7a7a" stroke-width="0.8"/>
<text transform="translate(23.3,426.0) scale(0.82,1)" font-size="7.6" text-anchor="end" fill="#262626">1.0</text>
<line x1="24.9" y1="423.5" x2="26.5" y2="423.5" stroke="#7a7a7a" stroke-width="0.8"/>
<text transform="translate(23.3,446.0) scale(0.82,1)" font-size="7.6" text-anchor="end" fill="#262626">0.8</text>
<line x1="24.9" y1="443.5" x2="26.5" y2="443.5" stroke="#7a7a7a" stroke-width="0.8"/>
<text transform="translate(23.3,465.7) scale(0.82,1)" font-size="7.6" text-anchor="end" fill="#262626">0.6</text>
<line x1="24.9" y1="463.2" x2="26.5" y2="463.2" stroke="#7a7a7a" stroke-width="0.8"/>
<text transform="translate(23.3,485.0) scale(0.82,1)" font-size="7.6" text-anchor="end" fill="#262626">0.4</text>
<line x1="24.9" y1="482.5" x2="26.5" y2="482.5" stroke="#7a7a7a" stroke-width="0.8"/>
<text transform="translate(23.3,503.8) scale(0.82,1)" font-size="7.6" text-anchor="end" fill="#262626">0.2</text>
<line x1="24.9" y1="501.3" x2="26.5" y2="501.3" stroke="#7a7a7a" stroke-width="0.8"/>
<text transform="translate(19.1,523.1) scale(0.82,1)" font-size="7.6" text-anchor="middle" fill="#262626">0</text>
<line x1="24.9" y1="520.6" x2="26.5" y2="520.6" stroke="#7a7a7a" stroke-width="0.8"/>
<text transform="translate(67.7,362.0) scale(1.055,1)" font-size="12.0" text-anchor="middle" fill="#111" font-style="italic">spib</text>
<line x1="51.0" y1="398.5" x2="51.0" y2="423.8" stroke="#5a5a5a" stroke-width="1.0"/>
<line x1="48.3" y1="398.5" x2="53.6" y2="398.5" stroke="#5a5a5a" stroke-width="1.1"/>
<rect x="44.2" y="423.8" width="13.5" height="97.3" fill="#141414"/>
<rect x="63.5" y="520.5" width="5.0" height="0.6" fill="#141414"/>
<line x1="79.8" y1="388.8" x2="79.8" y2="421.5" stroke="#5a5a5a" stroke-width="1.0"/>
<line x1="77.1" y1="388.8" x2="82.4" y2="388.8" stroke="#5a5a5a" stroke-width="1.1"/>
<rect x="73.0" y="421.5" width="13.5" height="99.6" fill="#141414"/>
<text x="36.2" y="528.9" font-size="8.8" text-anchor="middle" fill="#0a0a0a" font-weight="normal" font-style="normal" stroke="#0a0a0a" stroke-width="0.22">1</text>
<text x="50.2" y="528.9" font-size="8.8" text-anchor="middle" fill="#0a0a0a" font-weight="normal" font-style="normal" stroke="#0a0a0a" stroke-width="0.22">2</text>
<text x="65.4" y="528.9" font-size="8.8" text-anchor="middle" fill="#0a0a0a" font-weight="normal" font-style="normal" stroke="#0a0a0a" stroke-width="0.22">1</text>
<text x="79.8" y="528.9" font-size="8.8" text-anchor="middle" fill="#0a0a0a" font-weight="normal" font-style="normal" stroke="#0a0a0a" stroke-width="0.22">2</text>
<line x1="28.4" y1="532.5" x2="55.8" y2="532.5" stroke="#111" stroke-width="0.85"/>
<line x1="59.2" y1="532.5" x2="85.6" y2="532.5" stroke="#111" stroke-width="0.85"/>
<line x1="40.8" y1="538.6" x2="45.6" y2="538.6" stroke="#111" stroke-width="1.4"/>
<line x1="70.9" y1="538.2" x2="75.1" y2="538.2" stroke="#222" stroke-width="1.2"/>
<line x1="73.0" y1="536.1" x2="73.0" y2="540.3" stroke="#222" stroke-width="1.2"/>
<line x1="116.0" y1="362.5" x2="116.0" y2="519.8" stroke="#7a7a7a" stroke-width="0.75"/>
<line x1="116.0" y1="520.0" x2="179.0" y2="520.0" stroke="#808080" stroke-width="0.8"/>
<text transform="translate(113.5,365.0) scale(0.83,1)" font-size="7.6" text-anchor="end" fill="#262626">0.14</text>
<line x1="114.4" y1="362.5" x2="116.0" y2="362.5" stroke="#7a7a7a" stroke-width="0.8"/>
<text transform="translate(113.5,387.9) scale(0.83,1)" font-size="7.6" text-anchor="end" fill="#262626">0.12</text>
<line x1="114.4" y1="385.4" x2="116.0" y2="385.4" stroke="#7a7a7a" stroke-width="0.8"/>
<text transform="translate(113.5,410.2) scale(0.83,1)" font-size="7.6" text-anchor="end" fill="#262626">0.10</text>
<line x1="114.4" y1="407.7" x2="116.0" y2="407.7" stroke="#7a7a7a" stroke-width="0.8"/>
<text transform="translate(113.5,432.3) scale(0.83,1)" font-size="7.6" text-anchor="end" fill="#262626">0.08</text>
<line x1="114.4" y1="429.8" x2="116.0" y2="429.8" stroke="#7a7a7a" stroke-width="0.8"/>
<text transform="translate(113.5,455.2) scale(0.83,1)" font-size="7.6" text-anchor="end" fill="#262626">0.06</text>
<line x1="114.4" y1="452.7" x2="116.0" y2="452.7" stroke="#7a7a7a" stroke-width="0.8"/>
<text transform="translate(113.5,478.2) scale(0.83,1)" font-size="7.6" text-anchor="end" fill="#262626">0.04</text>
<line x1="114.4" y1="475.7" x2="116.0" y2="475.7" stroke="#7a7a7a" stroke-width="0.8"/>
<text transform="translate(113.5,500.9) scale(0.83,1)" font-size="7.6" text-anchor="end" fill="#262626">0.02</text>
<line x1="114.4" y1="498.4" x2="116.0" y2="498.4" stroke="#7a7a7a" stroke-width="0.8"/>
<text transform="translate(111.6,523.5) scale(0.83,1)" font-size="7.6" text-anchor="middle" fill="#262626">0</text>
<line x1="114.4" y1="521.0" x2="116.0" y2="521.0" stroke="#7a7a7a" stroke-width="0.8"/>
<text transform="translate(158.0,362.0) scale(1.055,1)" font-size="12.0" text-anchor="middle" fill="#111" font-style="italic">xlurp</text>
<line x1="125.1" y1="518.0" x2="125.1" y2="518.4" stroke="#5a5a5a" stroke-width="1.0"/>
<line x1="122.4" y1="518.0" x2="127.7" y2="518.0" stroke="#5a5a5a" stroke-width="1.1"/>
<rect x="118.8" y="518.4" width="12.5" height="1.4" fill="#141414"/>
<line x1="140.8" y1="383.0" x2="140.8" y2="407.7" stroke="#5a5a5a" stroke-width="1.0"/>
<line x1="138.1" y1="383.0" x2="143.4" y2="383.0" stroke="#5a5a5a" stroke-width="1.1"/>
<rect x="134.2" y="407.7" width="13.1" height="112.1" fill="#141414"/>
<line x1="155.1" y1="508.0" x2="155.1" y2="510.0" stroke="#5a5a5a" stroke-width="1.0"/>
<line x1="152.5" y1="508.0" x2="157.8" y2="508.0" stroke="#5a5a5a" stroke-width="1.1"/>
<rect x="148.4" y="510.0" width="13.4" height="9.8" fill="#fff" stroke="#111" stroke-width="0.7"/>
<line x1="170.2" y1="424.4" x2="170.2" y2="449.8" stroke="#5a5a5a" stroke-width="1.0"/>
<line x1="167.6" y1="424.4" x2="172.9" y2="424.4" stroke="#5a5a5a" stroke-width="1.1"/>
<rect x="163.5" y="449.8" width="13.5" height="70.0" fill="#141414"/>
<text x="126.0" y="528.9" font-size="8.8" text-anchor="middle" fill="#0a0a0a" font-weight="normal" font-style="normal" stroke="#0a0a0a" stroke-width="0.22">1</text>
<text x="140.4" y="528.9" font-size="8.8" text-anchor="middle" fill="#0a0a0a" font-weight="normal" font-style="normal" stroke="#0a0a0a" stroke-width="0.22">2</text>
<text x="156.0" y="528.9" font-size="8.8" text-anchor="middle" fill="#0a0a0a" font-weight="normal" font-style="normal" stroke="#0a0a0a" stroke-width="0.22">1</text>
<text x="170.4" y="528.9" font-size="8.8" text-anchor="middle" fill="#0a0a0a" font-weight="normal" font-style="normal" stroke="#0a0a0a" stroke-width="0.22">2</text>
<line x1="116.5" y1="532.5" x2="144.8" y2="532.5" stroke="#111" stroke-width="0.85"/>
<line x1="149.2" y1="532.5" x2="178.5" y2="532.5" stroke="#111" stroke-width="0.85"/>
<line x1="129.2" y1="538.6" x2="134.0" y2="538.6" stroke="#111" stroke-width="1.4"/>
<line x1="162.1" y1="538.2" x2="166.3" y2="538.2" stroke="#222" stroke-width="1.2"/>
<line x1="164.2" y1="536.1" x2="164.2" y2="540.3" stroke="#222" stroke-width="1.2"/>
<line x1="215.6" y1="365.2" x2="215.6" y2="521.0" stroke="#7a7a7a" stroke-width="0.75"/>
<line x1="215.6" y1="521.2" x2="276.0" y2="521.2" stroke="#808080" stroke-width="0.8"/>
<text transform="translate(213.0,367.7) scale(0.83,1)" font-size="7.6" text-anchor="end" fill="#262626">0.0025</text>
<line x1="214.0" y1="365.2" x2="215.6" y2="365.2" stroke="#7a7a7a" stroke-width="0.8"/>
<text transform="translate(213.0,396.7) scale(0.83,1)" font-size="7.6" text-anchor="end" fill="#262626">0.002</text>
<line x1="214.0" y1="394.2" x2="215.6" y2="394.2" stroke="#7a7a7a" stroke-width="0.8"/>
<text transform="translate(213.0,426.9) scale(0.83,1)" font-size="7.6" text-anchor="end" fill="#262626">0.0015</text>
<line x1="214.0" y1="424.4" x2="215.6" y2="424.4" stroke="#7a7a7a" stroke-width="0.8"/>
<text transform="translate(213.0,457.5) scale(0.83,1)" font-size="7.6" text-anchor="end" fill="#262626">0.001</text>
<line x1="214.0" y1="455.0" x2="215.6" y2="455.0" stroke="#7a7a7a" stroke-width="0.8"/>
<text transform="translate(213.0,487.8) scale(0.83,1)" font-size="7.6" text-anchor="end" fill="#262626">0.0005</text>
<line x1="214.0" y1="485.3" x2="215.6" y2="485.3" stroke="#7a7a7a" stroke-width="0.8"/>
<text transform="translate(210.5,522.0) scale(0.83,1)" font-size="7.6" text-anchor="middle" fill="#262626">0</text>
<line x1="214.0" y1="519.5" x2="215.6" y2="519.5" stroke="#7a7a7a" stroke-width="0.8"/>
<text transform="translate(254.5,361.2) scale(1.055,1)" font-size="12.0" text-anchor="middle" fill="#111" font-style="italic">mpo</text>
<line x1="239.0" y1="397.5" x2="239.0" y2="420.0" stroke="#5a5a5a" stroke-width="1.0"/>
<line x1="236.3" y1="397.5" x2="241.7" y2="397.5" stroke="#5a5a5a" stroke-width="1.1"/>
<rect x="232.0" y="420.0" width="14.0" height="101.0" fill="#141414"/>
<text x="223.3" y="528.9" font-size="8.8" text-anchor="middle" fill="#0a0a0a" font-weight="normal" font-style="normal" stroke="#0a0a0a" stroke-width="0.22">1</text>
<text x="237.7" y="528.9" font-size="8.8" text-anchor="middle" fill="#0a0a0a" font-weight="normal" font-style="normal" stroke="#0a0a0a" stroke-width="0.22">2</text>
<text x="253.0" y="528.9" font-size="8.8" text-anchor="middle" fill="#0a0a0a" font-weight="normal" font-style="normal" stroke="#0a0a0a" stroke-width="0.22">1</text>
<text x="267.5" y="528.9" font-size="8.8" text-anchor="middle" fill="#0a0a0a" font-weight="normal" font-style="normal" stroke="#0a0a0a" stroke-width="0.22">2</text>
<line x1="216.0" y1="532.5" x2="243.8" y2="532.5" stroke="#111" stroke-width="0.85"/>
<line x1="247.7" y1="532.5" x2="275.8" y2="532.5" stroke="#111" stroke-width="0.85"/>
<line x1="228.8" y1="538.6" x2="233.6" y2="538.6" stroke="#111" stroke-width="1.4"/>
<line x1="260.4" y1="538.2" x2="264.6" y2="538.2" stroke="#222" stroke-width="1.2"/>
<line x1="262.5" y1="536.1" x2="262.5" y2="540.3" stroke="#222" stroke-width="1.2"/>
<polyline points="238.9,397 238.9,380.2 268.6,380.2 268.6,520.8" fill="none" stroke="#8c8c8c" stroke-width="0.9"/>
<text x="254.2" y="382.6" font-size="11.5" text-anchor="middle" fill="#6a6a6a" font-weight="normal" font-style="normal" >**</text>
<line x1="314.2" y1="364.8" x2="314.2" y2="519.8" stroke="#7a7a7a" stroke-width="0.75"/>
<line x1="314.2" y1="520.0" x2="380.0" y2="520.0" stroke="#808080" stroke-width="0.8"/>
<text transform="translate(311.7,367.2) scale(0.97,1)" font-size="7.4" text-anchor="end" fill="#262626">0.0007</text>
<line x1="312.6" y1="364.8" x2="314.2" y2="364.8" stroke="#7a7a7a" stroke-width="0.8"/>
<text transform="translate(311.7,388.9) scale(0.97,1)" font-size="7.4" text-anchor="end" fill="#262626">0.0006</text>
<line x1="312.6" y1="386.5" x2="314.2" y2="386.5" stroke="#7a7a7a" stroke-width="0.8"/>
<text transform="translate(311.7,411.1) scale(0.97,1)" font-size="7.4" text-anchor="end" fill="#262626">0.0005</text>
<line x1="312.6" y1="408.7" x2="314.2" y2="408.7" stroke="#7a7a7a" stroke-width="0.8"/>
<text transform="translate(311.7,433.0) scale(0.97,1)" font-size="7.4" text-anchor="end" fill="#262626">0.0004</text>
<line x1="312.6" y1="430.6" x2="314.2" y2="430.6" stroke="#7a7a7a" stroke-width="0.8"/>
<text transform="translate(311.7,455.4) scale(0.97,1)" font-size="7.4" text-anchor="end" fill="#262626">0.0003</text>
<line x1="312.6" y1="453.0" x2="314.2" y2="453.0" stroke="#7a7a7a" stroke-width="0.8"/>
<text transform="translate(311.7,477.7) scale(0.97,1)" font-size="7.4" text-anchor="end" fill="#262626">0.0002</text>
<line x1="312.6" y1="475.3" x2="314.2" y2="475.3" stroke="#7a7a7a" stroke-width="0.8"/>
<text transform="translate(311.7,500.2) scale(0.97,1)" font-size="7.4" text-anchor="end" fill="#262626">0.0001</text>
<line x1="312.6" y1="497.8" x2="314.2" y2="497.8" stroke="#7a7a7a" stroke-width="0.8"/>
<text transform="translate(309.6,522.1) scale(0.97,1)" font-size="7.4" text-anchor="middle" fill="#262626">0</text>
<line x1="312.6" y1="519.7" x2="314.2" y2="519.7" stroke="#7a7a7a" stroke-width="0.8"/>
<text transform="translate(355.5,361.6) scale(1.055,1)" font-size="12.0" text-anchor="middle" fill="#111" font-style="italic">mmp7</text>
<line x1="340.1" y1="373.5" x2="340.1" y2="413.3" stroke="#5a5a5a" stroke-width="1.0"/>
<line x1="337.5" y1="373.5" x2="342.8" y2="373.5" stroke="#5a5a5a" stroke-width="1.1"/>
<rect x="332.9" y="413.3" width="14.4" height="106.5" fill="#141414"/>
<rect x="353.5" y="519.3" width="8.0" height="0.5" fill="#8a8a8a" stroke="#666" stroke-width="0.7"/>
<line x1="370.7" y1="503.2" x2="370.7" y2="509.8" stroke="#5a5a5a" stroke-width="1.0"/>
<line x1="368.1" y1="503.2" x2="373.3" y2="503.2" stroke="#5a5a5a" stroke-width="1.1"/>
<rect x="363.7" y="509.8" width="14.0" height="10.0" fill="#141414"/>
<text x="324.6" y="528.9" font-size="8.8" text-anchor="middle" fill="#0a0a0a" font-weight="normal" font-style="normal" stroke="#0a0a0a" stroke-width="0.22">1</text>
<text x="339.0" y="528.9" font-size="8.8" text-anchor="middle" fill="#0a0a0a" font-weight="normal" font-style="normal" stroke="#0a0a0a" stroke-width="0.22">2</text>
<text x="355.0" y="528.9" font-size="8.8" text-anchor="middle" fill="#0a0a0a" font-weight="normal" font-style="normal" stroke="#0a0a0a" stroke-width="0.22">1</text>
<text x="368.8" y="528.9" font-size="8.8" text-anchor="middle" fill="#0a0a0a" font-weight="normal" font-style="normal" stroke="#0a0a0a" stroke-width="0.22">2</text>
<line x1="317.5" y1="532.5" x2="346.3" y2="532.5" stroke="#111" stroke-width="0.85"/>
<line x1="350.8" y1="532.5" x2="380.0" y2="532.5" stroke="#111" stroke-width="0.85"/>
<line x1="330.4" y1="538.6" x2="335.2" y2="538.6" stroke="#111" stroke-width="1.4"/>
<line x1="363.7" y1="538.2" x2="367.9" y2="538.2" stroke="#222" stroke-width="1.2"/>
<line x1="365.8" y1="536.1" x2="365.8" y2="540.3" stroke="#222" stroke-width="1.2"/>
<polyline points="340.4,373.5 340.4,369.6 370.4,369.6 370.4,503.2" fill="none" stroke="#8c8c8c" stroke-width="0.9"/>
<text x="356.5" y="371.4" font-size="11.5" text-anchor="middle" fill="#6a6a6a" font-weight="normal" font-style="normal" >*</text>
<line x1="370.7" y1="503.2" x2="370.7" y2="509.8" stroke="#222" stroke-width="1.2"/>
<line x1="367.6" y1="503.2" x2="373.8" y2="503.2" stroke="#222" stroke-width="1.2"/>
<text x="7.7" y="542.5" font-size="10.3" text-anchor="start" fill="#111" font-weight="normal" font-style="normal" >CHX</text>
<text x="1.7" y="11.8" font-size="14.3" text-anchor="start" fill="#0a0a0a" font-weight="bold" font-style="normal" >A</text>
<text x="16.8" y="11.8" font-size="11.2" text-anchor="start" fill="#0a0a0a" font-weight="bold" font-style="normal" stroke="#0a0a0a" stroke-width="0.25">i</text>
<text x="102.5" y="11.8" font-size="11.2" text-anchor="start" fill="#0a0a0a" font-weight="bold" font-style="normal" stroke="#0a0a0a" stroke-width="0.25">ii</text>
<text x="190.2" y="11.8" font-size="11.2" text-anchor="start" fill="#0a0a0a" font-weight="bold" font-style="normal" stroke="#0a0a0a" stroke-width="0.25">iii</text>
<text x="279.6" y="11.8" font-size="11.2" text-anchor="start" fill="#0a0a0a" font-weight="bold" font-style="normal" stroke="#0a0a0a" stroke-width="0.25">iv</text>
<text x="371.0" y="11.8" font-size="11.2" text-anchor="start" fill="#0a0a0a" font-weight="bold" font-style="normal" stroke="#0a0a0a" stroke-width="0.25">v</text>
<text x="452.7" y="11.8" font-size="11.2" text-anchor="start" fill="#0a0a0a" font-weight="bold" font-style="normal" stroke="#0a0a0a" stroke-width="0.25">vi</text>
<text x="15.4" y="178.1" font-size="11.2" text-anchor="start" fill="#0a0a0a" font-weight="bold" font-style="normal" stroke="#0a0a0a" stroke-width="0.25">vii</text>
<text x="106.0" y="178.1" font-size="11.2" text-anchor="start" fill="#0a0a0a" font-weight="bold" font-style="normal" stroke="#0a0a0a" stroke-width="0.25">viii</text>
<text x="188.3" y="178.1" font-size="11.2" text-anchor="start" fill="#0a0a0a" font-weight="bold" font-style="normal" stroke="#0a0a0a" stroke-width="0.25">ix</text>
<text x="281.6" y="178.1" font-size="11.2" text-anchor="start" fill="#0a0a0a" font-weight="bold" font-style="normal" stroke="#0a0a0a" stroke-width="0.25">x</text>
<text x="365.6" y="178.1" font-size="11.2" text-anchor="start" fill="#0a0a0a" font-weight="bold" font-style="normal" stroke="#0a0a0a" stroke-width="0.25">xi</text>
<text x="1.3" y="356.0" font-size="14.6" text-anchor="start" fill="#0a0a0a" font-weight="bold" font-style="normal" >B</text>
<text x="26.3" y="356.0" font-size="11.2" text-anchor="start" fill="#0a0a0a" font-weight="bold" font-style="normal" stroke="#0a0a0a" stroke-width="0.25">i</text>
<text x="113.0" y="356.0" font-size="11.2" text-anchor="start" fill="#0a0a0a" font-weight="bold" font-style="normal" stroke="#0a0a0a" stroke-width="0.25">ii</text>
<text x="210.8" y="356.0" font-size="11.2" text-anchor="start" fill="#0a0a0a" font-weight="bold" font-style="normal" stroke="#0a0a0a" stroke-width="0.25">iii</text>
<text x="309.8" y="356.0" font-size="11.2" text-anchor="start" fill="#0a0a0a" font-weight="bold" font-style="normal" stroke="#0a0a0a" stroke-width="0.25">iv</text>
<text transform="translate(7.6,121.5) rotate(-90)" font-size="9.2" fill="#0c0c0c" textLength="93" lengthAdjust="spacingAndGlyphs">Normalized Expression</text>
<text transform="translate(7.6,291.5) rotate(-90)" font-size="9.2" fill="#0c0c0c" textLength="95" lengthAdjust="spacingAndGlyphs">Normalized Expression</text>
<text transform="translate(7.4,485.5) rotate(-90)" font-size="8.4" fill="#0c0c0c" textLength="92.5" lengthAdjust="spacingAndGlyphs">Normalized Expression</text>
<rect x="422.5" y="211.2" width="7.8" height="8" fill="#141414" stroke="#141414" stroke-width="0.8"/>
<text x="426.4" y="218.3" font-size="8.6" text-anchor="middle" fill="#fff" font-weight="bold" font-style="normal" >1</text>
<rect x="422.5" y="223.2" width="7.8" height="8" fill="#c2c2c2" stroke="#333" stroke-width="0.8"/>
<text x="426.4" y="230.3" font-size="8.6" text-anchor="middle" fill="#0a0a0a" font-weight="bold" font-style="normal" >2</text>
<rect x="422.5" y="235.3" width="7.8" height="8" fill="#676767" stroke="#333" stroke-width="0.8"/>
<text x="426.4" y="242.4" font-size="8.6" text-anchor="middle" fill="#fff" font-weight="bold" font-style="normal" >3</text>
<text x="433.6" y="217.8" font-size="9.2" fill="#000"><tspan font-style="italic">gfp</tspan> whole</text>
<text x="433.6" y="229.8" font-size="9.2" fill="#000"><tspan font-style="italic">gfp</tspan> caps</text>
<text x="433.6" y="241.8" font-size="9.2" fill="#000"><tspan font-style="italic">cebpa</tspan> caps</text>
<rect x="379.6" y="424.2" width="9.8" height="8" fill="#fff" stroke="#333" stroke-width="0.8"/>
<text x="384.5" y="431.2" font-size="8.2" text-anchor="middle" fill="#333" font-weight="normal" font-style="normal" >1</text>
<rect x="379.6" y="435.8" width="9.8" height="8.4" fill="#141414" stroke="#141414" stroke-width="0.8"/>
<text x="384.5" y="443.0" font-size="8.4" text-anchor="middle" fill="#fff" font-weight="bold" font-style="normal" >2</text>
<text x="391.8" y="430.4" font-size="9.2" fill="#000"><tspan font-style="italic">gfp</tspan> caps</text>
<text x="391.8" y="442.4" font-size="9.2" fill="#000"><tspan font-style="italic">cebpa</tspan> caps</text>
</g>
</svg>
</body></html>
